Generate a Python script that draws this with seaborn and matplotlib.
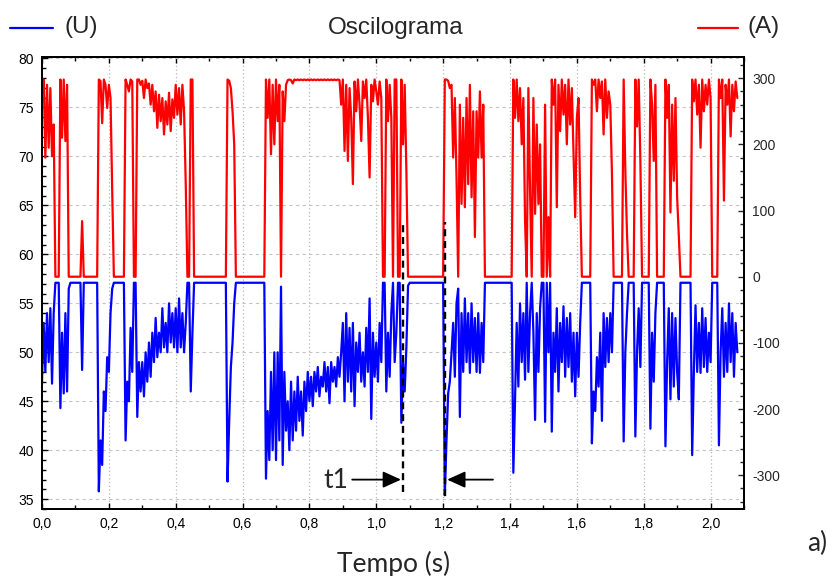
import numpy as np
import pandas as pd
import matplotlib
matplotlib.use("Agg")
import matplotlib.pyplot as plt
import seaborn as sns
from matplotlib.ticker import MultipleLocator, FixedLocator, FixedFormatter
from matplotlib.lines import Line2D

# ---------------- data (sampling step 5 ms) ----------------
STEP = 0.005

# Voltage (U), left axis, one row = 0.1 s
U_rows = [
    [47, 53, 48, 54, 49, 54.5, 46.8, 54, 57.1, 57.1, 57.1, 44.3, 52, 45.8, 54, 46, 56.5, 57.1, 57.1, 57.1],
    [57.1, 57.1, 57.1, 57.1, 48.2, 57.1, 57.1, 57.1, 57.1, 57.1, 57.1, 57.1, 57.1, 57.1, 35.8, 41, 38.5, 46, 44, 49.5],
    [48, 54, 56.5, 57.1, 57.1, 57.1, 57.1, 57.1, 57.1, 57.1, 41.0, 47, 45, 52.5, 48, 57.1, 57.1, 43.4, 49, 46],
    [49, 45.5, 50, 47, 51, 47.5, 52, 49, 53.5, 49.5, 52, 50, 54.5, 50.5, 53, 50, 55, 51, 54, 50.5],
    [54.5, 50, 55.5, 50.5, 54, 50, 53, 57.1, 57.1, 46.0, 52, 57.1, 57.1, 57.1, 57.1, 57.1, 57.1, 57.1, 57.1, 57.1],
    [57.1, 57.1, 57.1, 57.1, 57.1, 57.1, 57.1, 57.1, 57.1, 57.1, 57.1, 36.8, 43, 48.5, 51, 55, 57.1, 57.1, 57.1, 57.1],
    [57.1, 57.1, 57.1, 57.1, 57.1, 57.1, 57.1, 57.1, 57.1, 57.1, 57.1, 57.1, 57.1, 57.1, 37.1, 44, 39, 48, 40, 50],
    [39, 50, 41, 56.7, 38.5, 48, 42, 45, 40, 47, 41, 46, 42, 47.5, 43, 46, 41.5, 47, 44, 48],
    [45, 47.5, 44.5, 48, 46, 48.5, 45.5, 47.5, 46.5, 49, 46, 48.5, 44.8, 49, 47, 48.5, 46.5, 49.5, 47.5, 50],
    [53, 45, 54, 47, 52.5, 46, 53, 44.5, 51, 48, 52, 47, 50, 46.5, 52.5, 48, 55.5, 43.2, 52, 47.5],
    [51, 47, 53, 49, 57.1, 57.1, 46, 52, 47.5, 54, 57.1, 49, 52, 57.1, 57.1, 42.8, 49, 46, 50.5, 56.8],
    [57.1, 57.1, 57.1, 57.1, 57.1, 57.1, 57.1, 57.1, 57.1, 57.1, 57.1, 57.1, 57.1, 57.1, 57.1, 57.1, 57.1, 57.1, 57.1, 57.1],
    [57.1, 35.4, 41, 45.8, 47, 49.9, 53, 47.5, 55, 56.5, 43.4, 54, 48, 55.5, 49, 54, 47.9, 55, 49, 53.5],
    [48, 54, 47.9, 53, 49, 57.1, 57.1, 57.1, 57.1, 57.1, 57.1, 57.1, 57.1, 57.1, 57.1, 57.1, 57.1, 57.1, 57.1, 57.1],
    [57.1, 57.1, 37.7, 45, 53, 46.5, 55, 49, 54, 47.2, 57.1, 48, 54, 57.1, 52, 43.1, 54, 48, 54.5, 57.1],
    [57.1, 42.9, 57.1, 50, 57.1, 41.9, 52, 48, 54.5, 46, 53, 49, 54.7, 47.5, 53.5, 48.5, 54, 47, 52, 45.5],
    [52, 47.5, 53, 57.1, 57.1, 57.1, 57.1, 57.1, 57.1, 40.7, 46, 44, 49.5, 46.5, 52, 43, 54, 48.5, 53.5, 49],
    [54, 50, 57.1, 57.1, 57.1, 57.1, 57.1, 57.1, 40.9, 50, 54, 57.1, 57.1, 57.1, 57.1, 41.4, 50, 54.5, 48.5, 57.1],
    [57.1, 57.1, 57.1, 57.1, 42.2, 52, 47, 54, 57.1, 57.1, 57.1, 57.1, 57.1, 40.4, 49, 54.5, 45.2, 54, 46.5, 53.5],
    [48, 45.2, 57.1, 57.1, 57.1, 57.1, 57.1, 57.1, 57.1, 39.5, 48, 54.8, 48, 53, 47.9, 54.5, 48.5, 53.5, 48, 52],
    [49, 57.1, 57.1, 57.1, 57.1, 40.5, 50, 54.5, 47.5, 53, 48, 55, 49, 54, 47.5, 53, 50],
]

# Current (A), right axis, one row = 0.1 s
A_rows = [
    [270, 298, 180, 290, 195, 285, 182, 230, 0, 0, 0, 298, 210, 298, 205, 290, 0, 0, 0, 0],
    [0, 0, 0, 0, 84, 0, 0, 0, 0, 0, 0, 0, 0, 0, 298, 296, 232, 298, 290, 255],
    [290, 270, 130, 0, 0, 0, 0, 0, 0, 0, 298, 290, 280, 298, 295, 0, 0, 298, 298, 290],
    [296, 270, 298, 285, 292, 260, 290, 250, 280, 225, 275, 235, 270, 215, 265, 230, 278, 220, 268, 240],
    [290, 245, 285, 230, 290, 250, 140, 0, 0, 298, 298, 0, 0, 0, 0, 0, 0, 0, 0, 0],
    [0, 0, 0, 0, 0, 0, 0, 0, 0, 0, 0, 298, 296, 285, 250, 200, 0, 0, 0, 0],
    [0, 0, 0, 0, 0, 0, 0, 0, 0, 0, 0, 0, 0, 0, 298, 240, 298, 185, 290, 200],
    [298, 235, 290, 0, 280, 235, 290, 297, 298, 297, 292, 298, 297, 298, 297, 298, 297, 298, 297, 298],
    [297, 298, 297, 298, 297, 298, 297, 298, 297, 298, 297, 298, 297, 298, 297, 298, 297, 298, 297, 260],
    [298, 190, 290, 175, 285, 240, 140, 295, 250, 298, 260, 205, 295, 270, 298, 240, 150, 290, 265, 298],
    [280, 260, 295, 270, 0, 0, 298, 235, 290, 240, 0, 298, 298, 0, 0, 298, 200, 290, 160, 0],
    [0, 0, 0, 0, 0, 0, 0, 0, 0, 0, 0, 0, 0, 0, 0, 0, 0, 0, 0, 0],
    [0, 298, 298, 296, 285, 290, 180, 270, 150, 0, 260, 110, 240, 105, 270, 140, 290, 120, 250, 60],
    [250, 180, 280, 180, 260, 0, 0, 0, 0, 0, 0, 0, 0, 0, 0, 0, 0, 0, 0, 0],
    [0, 0, 298, 240, 298, 235, 285, 200, 270, 85, 0, 285, 130, 0, 270, 95, 230, 110, 200, 0],
    [0, 260, 0, 90, 0, 298, 260, 298, 105, 290, 220, 298, 245, 290, 200, 298, 230, 285, 190, 90],
    [240, 270, 120, 0, 0, 0, 0, 0, 0, 298, 290, 298, 250, 298, 270, 295, 215, 298, 240, 280],
    [260, 155, 0, 0, 0, 0, 0, 0, 298, 160, 65, 0, 0, 0, 0, 298, 227, 298, 175, 0],
    [0, 0, 0, 0, 298, 260, 175, 290, 0, 0, 0, 0, 0, 298, 240, 290, 97, 260, 145, 270],
    [120, 62, 0, 0, 0, 0, 0, 0, 0, 298, 265, 298, 245, 290, 195, 298, 250, 290, 260, 298],
    [270, 0, 0, 0, 0, 298, 270, 298, 115, 290, 260, 298, 212, 290, 250, 295, 270],
]

voltage = [v for row in U_rows for v in row]
current = [a for row in A_rows for a in row]
time = np.arange(len(voltage)) * STEP

x_ticks = [0.0, 0.2, 0.4, 0.6, 0.8, 1.0, 1.2, 1.4, 1.6, 1.8, 2.0]
x_tick_labels = ["0,0", "0,2", "0,4", "0,6", "0,8", "1,0", "1,2", "1,4", "1,6", "1,8", "2,0"]
left_ticks = [35, 40, 45, 50, 55, 60, 65, 70, 75, 80]
right_ticks = [-300, -200, -100, 0, 100, 200, 300]
right_tick_labels = ["-300", "-200", "-100", "0", "100", "200", "300"]

# t1 markers (annotation)
t1_start, t1_end = 1.080, 1.205
marker_top = 63.3
marker_bottom = (35.75, 35.35)
arrow_level = 37.0
arrow_left_from, arrow_right_from = 0.928, 1.349

# ---------------- figure ----------------
sns.set_style("white")
plt.rcParams['font.family'] = ['Liberation Sans', 'DejaVu Sans']
plt.rcParams['axes.unicode_minus'] = False

W, H = 829, 576
fig = plt.figure(figsize=(W / 100, H / 100), dpi=100)
L, R, T, B = 42, 744, 57, 509
ax = fig.add_axes([L / W, 1 - B / H, (R - L) / W, (B - T) / H])
ax2 = ax.twinx()

df = pd.DataFrame({"t": time, "U": voltage, "A": current})
sns.lineplot(data=df, x="t", y="U", ax=ax, color="#0000FF", linewidth=1.6,
             estimator=None, sort=False, legend=False)
sns.lineplot(data=df, x="t", y="A", ax=ax2, color="#FF0000", linewidth=1.6,
             estimator=None, sort=False, legend=False)

ax.set_xlim(0, 2.1)
ax.set_ylim(34, 80.15)
ax2.set_ylim(-351, 332)
ax.set_xlabel("")
ax.set_ylabel("")
ax2.set_ylabel("")

# grid
ax.xaxis.grid(True, linestyle=(0, (1, 2)), color="#b8b8b8", linewidth=0.9)
ax.yaxis.grid(True, linestyle=(0, (3, 3)), color="#c4c4c4", linewidth=0.8)
ax.set_axisbelow(True)

# ticks
ax.xaxis.set_major_locator(FixedLocator(x_ticks))
ax.xaxis.set_major_formatter(FixedFormatter(x_tick_labels))
ax.xaxis.set_minor_locator(MultipleLocator(0.1))
ax.yaxis.set_major_locator(FixedLocator(left_ticks))
ax.yaxis.set_minor_locator(MultipleLocator(1))
ax2.yaxis.set_major_locator(FixedLocator(right_ticks))
ax2.yaxis.set_major_formatter(FixedFormatter(right_tick_labels))
ax2.yaxis.set_minor_locator(MultipleLocator(20))

ax.tick_params(axis="both", which="both", direction="in", top=True, bottom=True,
               left=True, right=False, labelsize=10, colors="black", width=1.0)
ax.tick_params(which="major", length=4.5, pad=6)
ax.tick_params(which="minor", length=3)
ax2.tick_params(axis="y", which="both", direction="in", right=True, left=False,
                labelsize=10, width=1.0, pad=6)
ax2.tick_params(axis="y", which="major", length=4.5)
ax2.tick_params(axis="y", which="minor", length=3)

for a in (ax, ax2):
    for s in a.spines.values():
        s.set_visible(True)
        s.set_color("black")
        s.set_linewidth(1.4)

# t1 annotation (drawn above both series)
tr = ax.transData
ax2.plot([t1_start, t1_start], [marker_bottom[0], marker_top], transform=tr,
         color="black", linestyle=(0, (3, 2)), linewidth=1.7, zorder=5)
ax2.plot([t1_end, t1_end], [marker_bottom[1], marker_top], transform=tr,
         color="black", linestyle=(0, (3, 2)), linewidth=1.7, zorder=5)
arrow_style = dict(arrowstyle="-|>,head_length=0.55,head_width=0.25", color="black",
                   lw=1.3, mutation_scale=20, shrinkA=0, shrinkB=0)
ax2.annotate("", xy=(t1_start - 0.006, arrow_level), xytext=(arrow_left_from, arrow_level),
             xycoords=tr, textcoords=tr, arrowprops=arrow_style, zorder=6)
ax2.annotate("", xy=(t1_end + 0.007, arrow_level), xytext=(arrow_right_from, arrow_level),
             xycoords=tr, textcoords=tr, arrowprops=arrow_style, zorder=6)
ax2.text(0.880, 36.9, "t1", transform=tr, ha="center", va="center",
         fontsize=19, family=["Lato", "DejaVu Sans"], zorder=6)

# title, axis label, legend and panel tag
fig.text(396 / W, 1 - 34.3 / H, "Oscilograma", ha="center", va="baseline", fontsize=17.5)
fig.text(394 / W, 1 - 564 / H, "Tempo (s)", ha="center", va="center",
         fontsize=19, family=["Lato", "DejaVu Sans"])
fig.text(817 / W, 1 - 543 / H, "a)", ha="center", va="center",
         fontsize=19, family=["Lato", "DejaVu Sans"])

fig.add_artist(Line2D([10 / W, 53 / W], [1 - 27.5 / H, 1 - 27.5 / H], color="#0000FF", lw=1.6))
fig.text(65 / W, 1 - 33.5 / H, "(U)", ha="left", va="baseline", fontsize=17.5)
fig.add_artist(Line2D([698 / W, 738 / W], [1 - 27.5 / H, 1 - 27.5 / H], color="#FF0000", lw=1.6))
fig.text(748 / W, 1 - 33.5 / H, "(A)", ha="left", va="baseline", fontsize=17.5)

fig.savefig("out.png", dpi=100)
